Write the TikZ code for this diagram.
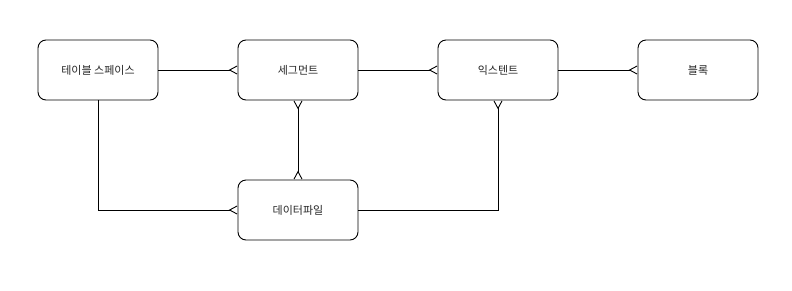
\documentclass[tikz,border=0pt]{standalone}
\usepackage{fontspec}
\newfontfamily\kr{Noto Sans CJK KR}
\usetikzlibrary{arrows.meta}
\begin{document}
\begin{tikzpicture}[x=1pt,y=-1pt,
  ent/.style={draw, line width=0.9pt, rounded corners=8pt, minimum width=120pt, minimum height=60pt, inner sep=0pt, font=\kr\fontsize{11}{13}\selectfont, text=black!85},
  conn/.style={line width=0.9pt},
  crow/.tip={Straight Barb[reversed,length=7.5pt,width=8pt,line width=0.9pt]},
  many/.style={-crow},
  manyboth/.style={crow-crow}]
\useasboundingbox (0,0) rectangle (792,290);
\node[ent] (ts) at (98,70) {테이블 스페이스};
\node[ent] (seg) at (298,70) {세그먼트};
\node[ent] (ext) at (498,70) {익스텐트};
\node[ent] (blk) at (698,70) {블록};
\node[ent] (df) at (298,210) {데이터파일};
\draw[conn,many] (ts.east) -- (seg.west);
\draw[conn,many] (seg.east) -- (ext.west);
\draw[conn,many] (ext.east) -- (blk.west);
\draw[conn,manyboth] (seg.south) -- (df.north);
\draw[conn,many] (ts.south) |- (df.west);
\draw[conn,many] (df.east) -| (ext.south);
\end{tikzpicture}
\end{document}
